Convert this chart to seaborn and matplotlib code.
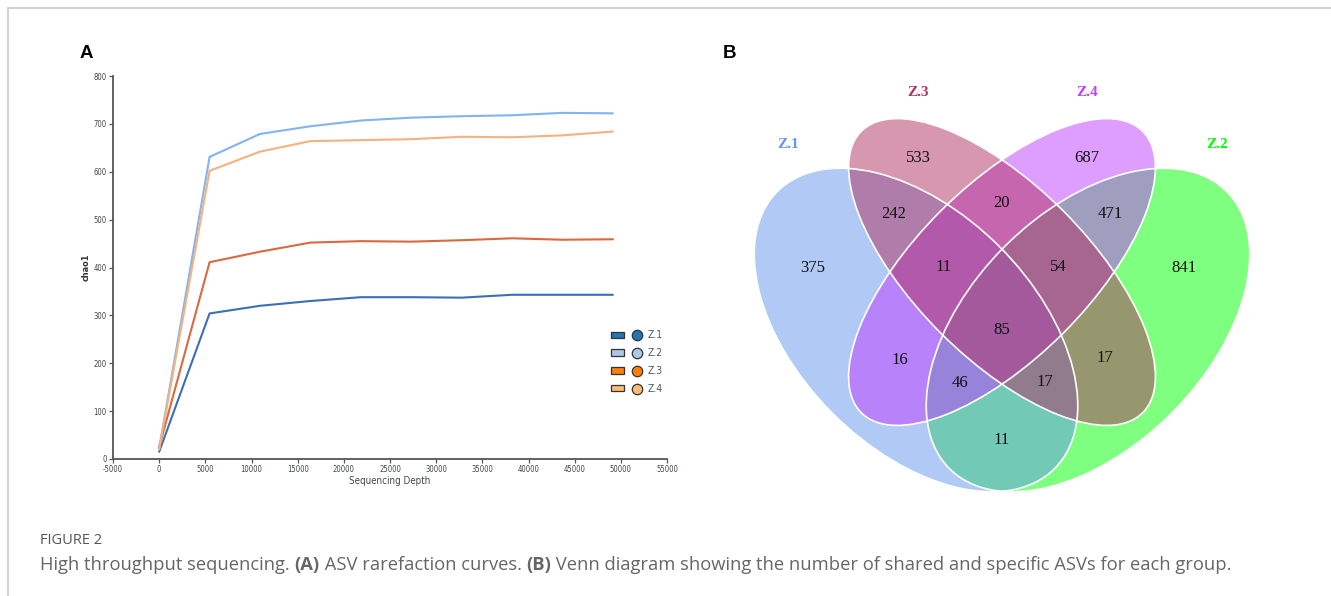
import numpy as np
import pandas as pd
import matplotlib
matplotlib.use("Agg")
import matplotlib.pyplot as plt
from matplotlib.patches import Ellipse, Patch
from matplotlib.lines import Line2D
from matplotlib.legend_handler import HandlerTuple
import seaborn as sns

# ---------------- rarefaction curves (panel A) ----------------
depth = [0, 5460, 10920, 16380, 21840, 27300, 32760, 38220, 43680, 49140]
chao1_z1 = [15, 304, 320, 330, 338, 338, 337, 343, 343, 343]
chao1_z2 = [22, 631, 679, 695, 707, 713, 716, 718, 723, 722]
chao1_z3 = [25, 411, 433, 452, 455, 454, 457, 461, 458, 459]
chao1_z4 = [20, 602, 642, 664, 666, 668, 673, 672, 676, 684]
groups = ["Z.1", "Z.2", "Z.3", "Z.4"]
x_ticks = list(range(-5000, 55001, 5000))
y_ticks = list(range(0, 801, 100))

line_colors = {"Z.1": "#3d6fb6", "Z.2": "#82b4f2", "Z.3": "#d9693f", "Z.4": "#f6b27c"}
legend_colors = {"Z.1": "#1f77b4", "Z.2": "#aec7e8", "Z.3": "#ff7f0e", "Z.4": "#ffbb78"}

# ---------------- Venn diagram (panel B) ----------------
venn_sets = ["Z.1", "Z.3", "Z.4", "Z.2"]
venn_set_colors = {"Z.1": "#6495ED", "Z.3": "#B03060", "Z.4": "#BF3EFF", "Z.2": "#00FF00"}
venn_regions = ["Z.1", "Z.3", "Z.4", "Z.2",
                "Z.1&Z.3", "Z.3&Z.4", "Z.4&Z.2",
                "Z.1&Z.3&Z.4", "Z.3&Z.4&Z.2", "Z.1&Z.2&Z.3&Z.4",
                "Z.1&Z.4", "Z.3&Z.2", "Z.1&Z.4&Z.2", "Z.1&Z.3&Z.2", "Z.1&Z.2"]
venn_counts = [375, 533, 687, 841, 242, 20, 471, 11, 54, 85, 16, 17, 46, 17, 11]

caption_title = "FIGURE 2"
caption_parts = [("High throughput sequencing. ", "normal"), ("(A)", "bold"),
                 (" ASV rarefaction curves. ", "normal"), ("(B)", "bold"),
                 (" Venn diagram showing the number of shared and specific ASVs for each group.", "normal")]

# ---------------- style ----------------
sns.set_theme(style="white")
plt.rcParams["font.family"] = ["Liberation Sans Narrow", "DejaVu Sans"]
plt.rcParams["font.stretch"] = "condensed"
plt.rcParams["axes.unicode_minus"] = False

W, H = 1331, 596
fig = plt.figure(figsize=(W / 100, H / 100), dpi=100)


def fx(px):
    return px / W


def fy(py):
    return 1 - py / H


# ---- panel A ----
df = pd.DataFrame({
    "depth": depth * 4,
    "chao1": chao1_z1 + chao1_z2 + chao1_z3 + chao1_z4,
    "group": sum([[g] * len(depth) for g in groups], []),
})

axA = fig.add_axes([fx(113), fy(459), fx(667) - fx(113), fy(76) - fy(459)])
sns.lineplot(data=df, x="depth", y="chao1", hue="group", palette=line_colors,
             linewidth=1.5, errorbar=None, legend=False, ax=axA)
axA.set_xlim(x_ticks[0], x_ticks[-1])
axA.set_ylim(y_ticks[0], y_ticks[-1])
axA.set_xticks(x_ticks)
axA.set_yticks(y_ticks)
for side in ("top", "right"):
    axA.spines[side].set_visible(False)
for side in ("left", "bottom"):
    axA.spines[side].set_color("#555555")
    axA.spines[side].set_linewidth(1.3)
axA.tick_params(axis="both", direction="out", length=3, width=0.9, color="#555555",
                labelsize=5.5, labelcolor="#3f4a40", pad=1.5, left=True, bottom=True)
axA.set_xlabel("Sequencing Depth", fontsize=7, color="#3f4a40", labelpad=1)
axA.set_ylabel("chao1", fontsize=6.5, fontweight="bold", color="#333333", labelpad=2)
axA.grid(False)

handles = [(Patch(facecolor=legend_colors[g], edgecolor="#333333", linewidth=0.9),
            Line2D([], [], linestyle="None", marker="o", markersize=7.5,
                   markerfacecolor=legend_colors[g], markeredgecolor="#333333",
                   markeredgewidth=0.9))
           for g in groups]
axA.legend(handles, groups, handler_map={tuple: HandlerTuple(ndivide=None, pad=0.7)},
           loc="upper left", bbox_to_anchor=(0.882, 0.36), frameon=False,
           fontsize=7.5, handlelength=3.1, handleheight=0.55, labelspacing=0.75,
           handletextpad=0.45, labelcolor="#4a5670")

# ---- panel B ----
axB = fig.add_axes([fx(730), fy(510), fx(1275) - fx(730), fy(70) - fy(510)])
axB.set_xlim(-2.72, 2.73)
axB.set_ylim(-2.38, 2.02)
axB.set_aspect("equal")
axB.axis("off")

# ellipse layout: centre, full width, full height, angle
ellipse_layout = {
    "Z.1": ((-0.86, -0.58), 3.92, 2.36, -45),
    "Z.2": ((0.86, -0.58), 3.92, 2.36, 45),
    "Z.3": ((0.0, 0.0), 3.98, 1.73, -45),
    "Z.4": ((0.0, 0.0), 3.98, 1.73, 45),
}
fill_order = ["Z.2", "Z.1", "Z.4", "Z.3"]
for s in fill_order:
    c, w, h, a = ellipse_layout[s]
    axB.add_patch(Ellipse(c, w, h, angle=a, facecolor=venn_set_colors[s],
                          alpha=0.5, edgecolor="none"))
for s in fill_order:
    c, w, h, a = ellipse_layout[s]
    axB.add_patch(Ellipse(c, w, h, angle=a, fill=False, edgecolor="white", linewidth=1.2))

region_pos = {
    "Z.1": (-1.89, 0.04), "Z.3": (-0.84, 1.14), "Z.4": (0.85, 1.14), "Z.2": (1.82, 0.04),
    "Z.1&Z.3": (-1.08, 0.58), "Z.3&Z.4": (0.0, 0.69), "Z.4&Z.2": (1.08, 0.58),
    "Z.1&Z.3&Z.4": (-0.58, 0.05), "Z.3&Z.4&Z.2": (0.56, 0.05),
    "Z.1&Z.2&Z.3&Z.4": (0.0, -0.58),
    "Z.1&Z.4": (-1.02, -0.88), "Z.3&Z.2": (1.03, -0.86),
    "Z.1&Z.4&Z.2": (-0.42, -1.11), "Z.1&Z.3&Z.2": (0.43, -1.10),
    "Z.1&Z.2": (0.0, -1.68),
}
for r, n in zip(venn_regions, venn_counts):
    x, y = region_pos[r]
    axB.text(x, y, str(n), ha="center", va="center", fontsize=12,
             family="Liberation Serif", stretch="normal", color="#111111")

label_pos = {"Z.1": (-2.14, 1.28), "Z.3": (-0.84, 1.79), "Z.4": (0.85, 1.79), "Z.2": (2.15, 1.28)}
for s in venn_sets:
    x, y = label_pos[s]
    axB.text(x, y, s, ha="center", va="center", fontsize=11, fontweight="bold",
             family="Liberation Serif", stretch="normal", color=venn_set_colors[s])

# ---- panel letters ----
for letter, px in (("A", 86), ("B", 729)):
    fig.text(fx(px), fy(53), letter, ha="center", va="center", fontsize=13.5,
             fontweight="bold", family="Liberation Sans", stretch="normal", color="black")

# ---- caption ----
fig.text(fx(40), fy(541), caption_title, ha="left", va="center", fontsize=10.5,
         family="Open Sans", stretch="normal", color="#555555")
prev = fig.text(fx(40), fy(565), caption_parts[0][0], ha="left", va="center",
                fontsize=13.2, family="Open Sans", stretch="normal", color="#666666",
                fontweight=caption_parts[0][1])
for text, weight in caption_parts[1:]:
    prev = axA.annotate(text, xy=(1, 0), xycoords=prev, ha="left", va="bottom",
                        fontsize=13.2, family="Open Sans", stretch="normal",
                        color="#666666", fontweight=weight, annotation_clip=False)

# ---- page frame ----
fig.add_artist(Line2D([fx(8), 1], [fy(8), fy(8)], transform=fig.transFigure,
                      color="#d2d2d2", linewidth=1.5))
fig.add_artist(Line2D([fx(8), fx(8)], [0, fy(8)], transform=fig.transFigure,
                      color="#d2d2d2", linewidth=1.5))

fig.savefig("out.png", dpi=100)
